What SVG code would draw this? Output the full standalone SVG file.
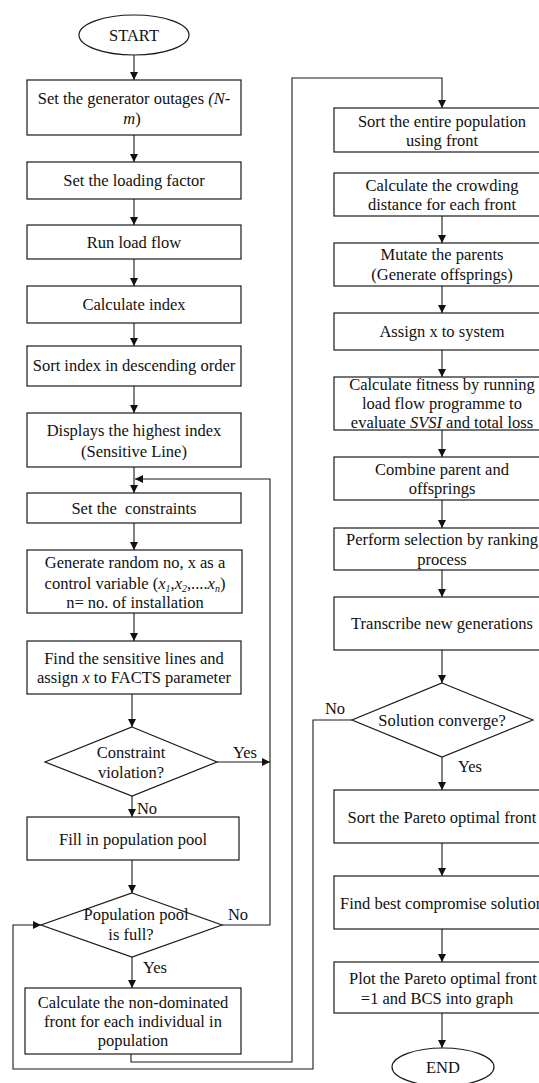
<svg xmlns="http://www.w3.org/2000/svg" width="539" height="1083" viewBox="0 0 539 1083">
<style>
.n{fill:#fff;stroke:#1a1a1a;stroke-width:1.2}
.c{fill:none;stroke:#1a1a1a;stroke-width:1.1}
text{font-family:"Liberation Serif","Times New Roman",serif;font-size:16.5px;fill:#111;text-anchor:middle}
.i{font-style:italic}
</style>
<defs>
<marker id="ah" markerWidth="8" markerHeight="8" refX="8" refY="4" orient="auto" markerUnits="userSpaceOnUse">
<path d="M0,0 L8,4 L0,8 Z" fill="#111"/>
</marker>
</defs>
<rect width="539" height="1083" fill="#fff"/>
<g id="connectors" class="c">
<line class="c" x1="134" y1="55" x2="134" y2="80" marker-end="url(#ah)"/>
<line class="c" x1="134" y1="135" x2="134" y2="162" marker-end="url(#ah)"/>
<line class="c" x1="134" y1="199" x2="134" y2="225" marker-end="url(#ah)"/>
<line class="c" x1="134" y1="259" x2="134" y2="286" marker-end="url(#ah)"/>
<line class="c" x1="134" y1="323" x2="134" y2="346" marker-end="url(#ah)"/>
<line class="c" x1="134" y1="386" x2="134" y2="413" marker-end="url(#ah)"/>
<line class="c" x1="134" y1="467" x2="134" y2="493" marker-end="url(#ah)"/>
<polyline class="c" points="222,925 270,925 270,479 135,479" marker-end="url(#ah)"/>
<line class="c" x1="134" y1="523" x2="134" y2="550" marker-end="url(#ah)"/>
<line class="c" x1="134" y1="613" x2="134" y2="641" marker-end="url(#ah)"/>
<line class="c" x1="132" y1="694" x2="132" y2="727" marker-end="url(#ah)"/>
<line class="c" x1="217" y1="762" x2="270" y2="762" marker-end="url(#ah)"/>
<line class="c" x1="132" y1="796" x2="132" y2="817" marker-end="url(#ah)"/>
<line class="c" x1="132" y1="860" x2="132" y2="893" marker-end="url(#ah)"/>
<line class="c" x1="132" y1="957" x2="132" y2="988" marker-end="url(#ah)"/>
<polyline class="c" points="131,1054 131,1062 292,1062 292,78 442,78 442,108" marker-end="url(#ah)"/>
<polyline class="c" points="352,720 313,720 313,1069 13,1069 13,925 41,925" marker-end="url(#ah)"/>
<line class="c" x1="442" y1="216" x2="442" y2="243" marker-end="url(#ah)"/>
<line class="c" x1="442" y1="286" x2="442" y2="313" marker-end="url(#ah)"/>
<line class="c" x1="442" y1="350" x2="442" y2="377" marker-end="url(#ah)"/>
<line class="c" x1="442" y1="430" x2="442" y2="457" marker-end="url(#ah)"/>
<line class="c" x1="442" y1="500" x2="442" y2="528" marker-end="url(#ah)"/>
<line class="c" x1="442" y1="570" x2="442" y2="597" marker-end="url(#ah)"/>
<line class="c" x1="442" y1="650" x2="442" y2="683" marker-end="url(#ah)"/>
<line class="c" x1="442" y1="757" x2="442" y2="790" marker-end="url(#ah)"/>
<line class="c" x1="442" y1="843" x2="442" y2="876" marker-end="url(#ah)"/>
<line class="c" x1="442" y1="929" x2="442" y2="962" marker-end="url(#ah)"/>
<line class="c" x1="442" y1="1013" x2="442" y2="1048" marker-end="url(#ah)"/>
</g>
<g id="labels">
<text x="245" y="758">Yes</text>
<text x="147" y="814">No</text>
<text x="238" y="920">No</text>
<text x="155" y="973">Yes</text>
<text x="335" y="714">No</text>
<text x="470" y="772">Yes</text>
</g>
<g id="start"><ellipse class="n" cx="134" cy="35" rx="55" ry="20"/><text x="134" y="41">START</text></g>
<g id="b1"><rect class="n" x="27" y="80" width="214" height="55"/><text x="134" y="104">Set the generator outages <tspan class="i">(N-</tspan></text><text x="132" y="124"><tspan class="i">m</tspan>)</text></g>
<g id="b2"><rect class="n" x="27" y="162" width="214" height="37"/><text x="134" y="186">Set the loading factor</text></g>
<g id="b3"><rect class="n" x="27" y="225" width="214" height="34"/><text x="134" y="248">Run load flow</text></g>
<g id="b4"><rect class="n" x="27" y="286" width="214" height="37"/><text x="134" y="310">Calculate index</text></g>
<g id="b5"><rect class="n" x="27" y="346" width="214" height="40"/><text x="134" y="371">Sort index in descending order</text></g>
<g id="b6"><rect class="n" x="27" y="413" width="214" height="54"/><text x="134" y="436">Displays the highest index</text><text x="134" y="457">(Sensitive Line)</text></g>
<g id="b7"><rect class="n" x="27" y="493" width="214" height="30"/><text x="134" y="514" xml:space="preserve">Set the  constraints</text></g>
<g id="b8"><rect class="n" x="27" y="550" width="215" height="63"/><text x="135" y="568">Generate random no, x as a</text><text x="135" y="589">control variable (<tspan class="i">x</tspan><tspan class="i" font-size="10" dy="3">1</tspan><tspan dy="-3">,</tspan><tspan class="i">x</tspan><tspan class="i" font-size="10" dy="3">2</tspan><tspan dy="-3">,....</tspan><tspan class="i">x</tspan><tspan class="i" font-size="10" dy="3">n</tspan><tspan dy="-3">)</tspan></text><text x="135" y="608">n= no. of installation</text></g>
<g id="b9"><rect class="n" x="27" y="641" width="214" height="53"/><text x="134" y="664">Find the sensitive lines and</text><text x="134" y="683">assign <tspan class="i">x</tspan> to FACTS parameter</text></g>
<g id="d1"><polygon class="n" points="132,727 217,762 132,796 45,762"/><text x="131" y="758">Constraint</text><text x="131" y="778">violation?</text></g>
<g id="b10"><rect class="n" x="27" y="817" width="212" height="43"/><text x="133" y="845">Fill in population pool</text></g>
<g id="d2"><polygon class="n" points="132,893 222,925 132,957 41,925"/><text x="136" y="920">Population pool</text><text x="131" y="940">is full?</text></g>
<g id="b11"><rect class="n" x="25" y="988" width="216" height="66"/><text x="133" y="1008">Calculate the non-dominated</text><text x="133" y="1027">front for each individual in</text><text x="133" y="1046">population</text></g>
<g id="r1"><rect class="n" x="334" y="108" width="216" height="44"/><text x="442" y="127">Sort the entire population</text><text x="442" y="146">using front</text></g>
<g id="r2"><rect class="n" x="334" y="173" width="216" height="43"/><text x="442" y="191">Calculate the crowding</text><text x="442" y="210">distance for each front</text></g>
<g id="r3"><rect class="n" x="334" y="243" width="216" height="43"/><text x="442" y="260">Mutate the parents</text><text x="442" y="280">(Generate offsprings)</text></g>
<g id="r4"><rect class="n" x="334" y="313" width="216" height="37"/><text x="442" y="337">Assign x to system</text></g>
<g id="r5"><rect class="n" x="334" y="377" width="216" height="53"/><text x="442" y="390">Calculate fitness by running</text><text x="442" y="409">load flow programme to</text><text x="442" y="428">evaluate <tspan class="i">SVSI</tspan> and total loss</text></g>
<g id="r6"><rect class="n" x="334" y="457" width="216" height="43"/><text x="442" y="475">Combine parent and</text><text x="442" y="494">offsprings</text></g>
<g id="r7"><rect class="n" x="334" y="528" width="216" height="42"/><text x="442" y="545">Perform selection by ranking</text><text x="442" y="565">process</text></g>
<g id="r8"><rect class="n" x="334" y="597" width="216" height="53"/><text x="442" y="629">Transcribe new generations</text></g>
<g id="d3"><polygon class="n" points="442,683 533,720 442,757 352,720"/><text x="442" y="726">Solution converge?</text></g>
<g id="r9"><rect class="n" x="334" y="790" width="216" height="53"/><text x="442" y="823">Sort the Pareto optimal front</text></g>
<g id="r10"><rect class="n" x="334" y="876" width="216" height="53"/><text x="442" y="909">Find best compromise solution</text></g>
<g id="r11"><rect class="n" x="334" y="962" width="216" height="51"/><text x="443" y="984">Plot the Pareto optimal front</text><text x="437" y="1004">=1 and BCS into graph</text></g>
<g id="end"><ellipse class="n" cx="443" cy="1067" rx="51" ry="19"/><text x="443" y="1073">END</text></g>
</svg>
